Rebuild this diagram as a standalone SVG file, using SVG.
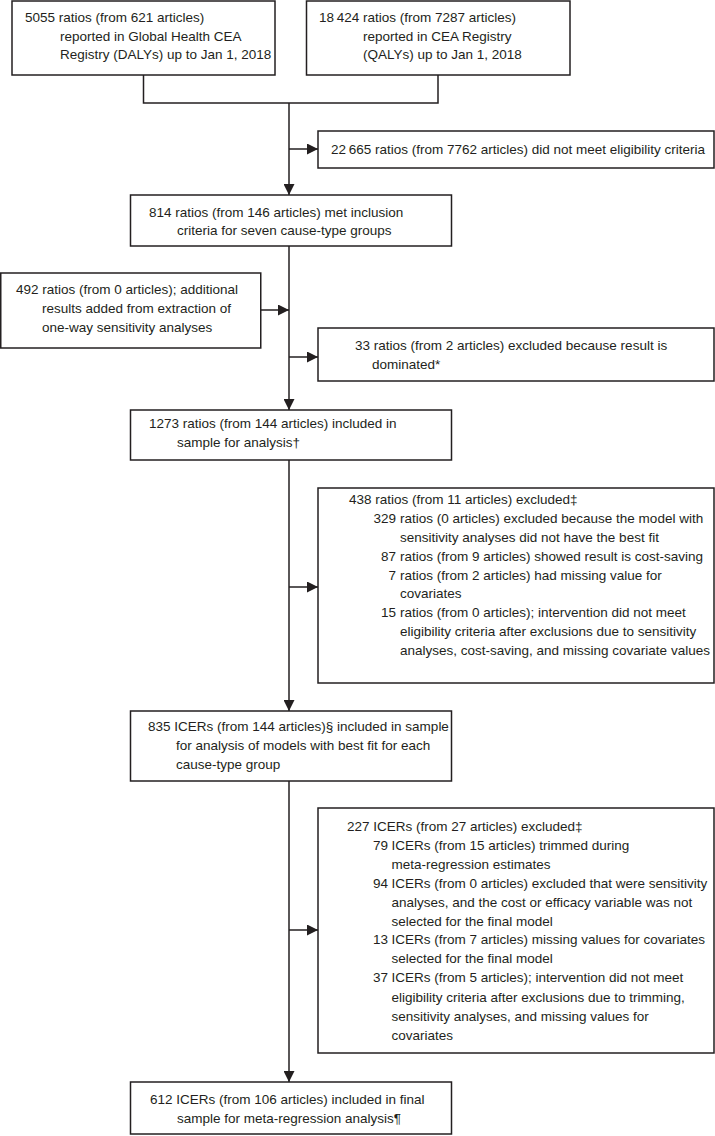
<svg xmlns="http://www.w3.org/2000/svg" width="715" height="1136" viewBox="0 0 715 1136">
<style>
.box{fill:#fff;stroke:#231f20;stroke-width:1.5}
.ln{fill:none;stroke:#231f20;stroke-width:1.5}
text{font-family:"Liberation Sans",Arial,sans-serif;font-size:13.5px;fill:#231f20}
.n{text-anchor:end}
</style>
<defs>
<marker id="ah" markerUnits="userSpaceOnUse" markerWidth="11" markerHeight="11" refX="11" refY="5.5" orient="auto">
<path d="M0,0 L11,5.5 L0,11 Z" fill="#231f20"/>
</marker>
</defs>
<rect width="715" height="1136" fill="#fff"/>
<g id="connectors">
<path class="ln" d="M143.5 75 V103 H438 V75"/>
<path class="ln" d="M289 103 V195" marker-end="url(#ah)"/>
<path class="ln" d="M289 149 H318" marker-end="url(#ah)"/>
<path class="ln" d="M289 246 V410" marker-end="url(#ah)"/>
<path class="ln" d="M261 310 H289" marker-end="url(#ah)"/>
<path class="ln" d="M289 357 H318" marker-end="url(#ah)"/>
<path class="ln" d="M289 460 V711" marker-end="url(#ah)"/>
<path class="ln" d="M289 587 H318" marker-end="url(#ah)"/>
<path class="ln" d="M289 781 V1082" marker-end="url(#ah)"/>
<path class="ln" d="M289 930 H318" marker-end="url(#ah)"/>
</g>
<g id="dalys">
<rect class="box" x="12" y="1" width="263" height="74"/>
<text x="25" y="22">5055 ratios (from 621 articles)</text>
<text x="60" y="41">reported in Global Health CEA</text>
<text x="60" y="59">Registry (DALYs) up to Jan 1, 2018</text>
</g>
<g id="qalys">
<rect class="box" x="306.5" y="1" width="263.5" height="74"/>
<text x="319" y="22">18&#8201;424 ratios (from 7287 articles)</text>
<text x="363" y="41">reported in CEA Registry</text>
<text x="363" y="59">(QALYs) up to Jan 1, 2018</text>
</g>
<g id="not-eligible">
<rect class="box" x="318" y="131" width="396" height="37"/>
<text x="331" y="154">22&#8201;665 ratios (from 7762 articles) did not meet eligibility criteria</text>
</g>
<g id="met-inclusion">
<rect class="box" x="130.5" y="195" width="321" height="51"/>
<text x="149" y="217">814 ratios (from 146 articles) met inclusion</text>
<text x="177" y="235">criteria for seven cause-type groups</text>
</g>
<g id="additional">
<rect class="box" x="0.75" y="273" width="260" height="75"/>
<text x="16" y="294">492 ratios (from 0 articles); additional</text>
<text x="42" y="313">results added from extraction of</text>
<text x="42" y="332">one-way sensitivity analyses</text>
</g>
<g id="dominated">
<rect class="box" x="318" y="328" width="396" height="53"/>
<text x="355" y="350">33 ratios (from 2 articles) excluded because result is</text>
<text x="372" y="369">dominated*</text>
</g>
<g id="sample">
<rect class="box" x="130.5" y="410" width="321" height="50"/>
<text x="149" y="428">1273 ratios (from 144 articles) included in</text>
<text x="177" y="447">sample for analysis†</text>
</g>
<g id="excluded-438">
<rect class="box" x="318" y="488" width="396" height="195"/>
<text x="349" y="504">438 ratios (from 11 articles) excluded‡</text>
<text y="523"><tspan class="n" x="396">329</tspan><tspan x="400">ratios (0 articles) excluded because the model with</tspan></text>
<text x="400" y="542">sensitivity analyses did not have the best fit</text>
<text y="561"><tspan class="n" x="396">87</tspan><tspan x="400">ratios (from 9 articles) showed result is cost-saving</tspan></text>
<text y="580"><tspan class="n" x="396">7</tspan><tspan x="400">ratios (from 2 articles) had missing value for</tspan></text>
<text x="400" y="598">covariates</text>
<text y="617"><tspan class="n" x="396">15</tspan><tspan x="400">ratios (from 0 articles); intervention did not meet</tspan></text>
<text x="400" y="636">eligibility criteria after exclusions due to sensitivity</text>
<text x="400" y="655">analyses, cost-saving, and missing covariate values</text>
</g>
<g id="best-fit">
<rect class="box" x="130.5" y="711" width="321" height="70"/>
<text x="148" y="731">835 ICERs (from 144 articles)§ included in sample</text>
<text x="176" y="750">for analysis of models with best fit for each</text>
<text x="176" y="769">cause-type group</text>
</g>
<g id="excluded-227">
<rect class="box" x="318" y="808" width="396" height="245"/>
<text x="347" y="831">227 ICERs (from 27 articles) excluded‡</text>
<text y="850"><tspan class="n" x="388">79</tspan><tspan x="391.5">ICERs (from 15 articles) trimmed during</tspan></text>
<text x="391.5" y="869">meta-regression estimates</text>
<text y="888"><tspan class="n" x="388">94</tspan><tspan x="391.5">ICERs (from 0 articles) excluded that were sensitivity</tspan></text>
<text x="391.5" y="907">analyses, and the cost or efficacy variable was not</text>
<text x="391.5" y="926">selected for the final model</text>
<text y="944"><tspan class="n" x="388">13</tspan><tspan x="391.5">ICERs (from 7 articles) missing values for covariates</tspan></text>
<text x="391.5" y="963">selected for the final model</text>
<text y="982"><tspan class="n" x="388">37</tspan><tspan x="391.5">ICERs (from 5 articles); intervention did not meet</tspan></text>
<text x="391.5" y="1002">eligibility criteria after exclusions due to trimming,</text>
<text x="391.5" y="1021">sensitivity analyses, and missing values for</text>
<text x="391.5" y="1040">covariates</text>
</g>
<g id="final">
<rect class="box" x="130.5" y="1082" width="321" height="52"/>
<text x="150" y="1104">612 ICERs (from 106 articles) included in final</text>
<text x="177" y="1123">sample for meta-regression analysis¶</text>
</g>
</svg>
